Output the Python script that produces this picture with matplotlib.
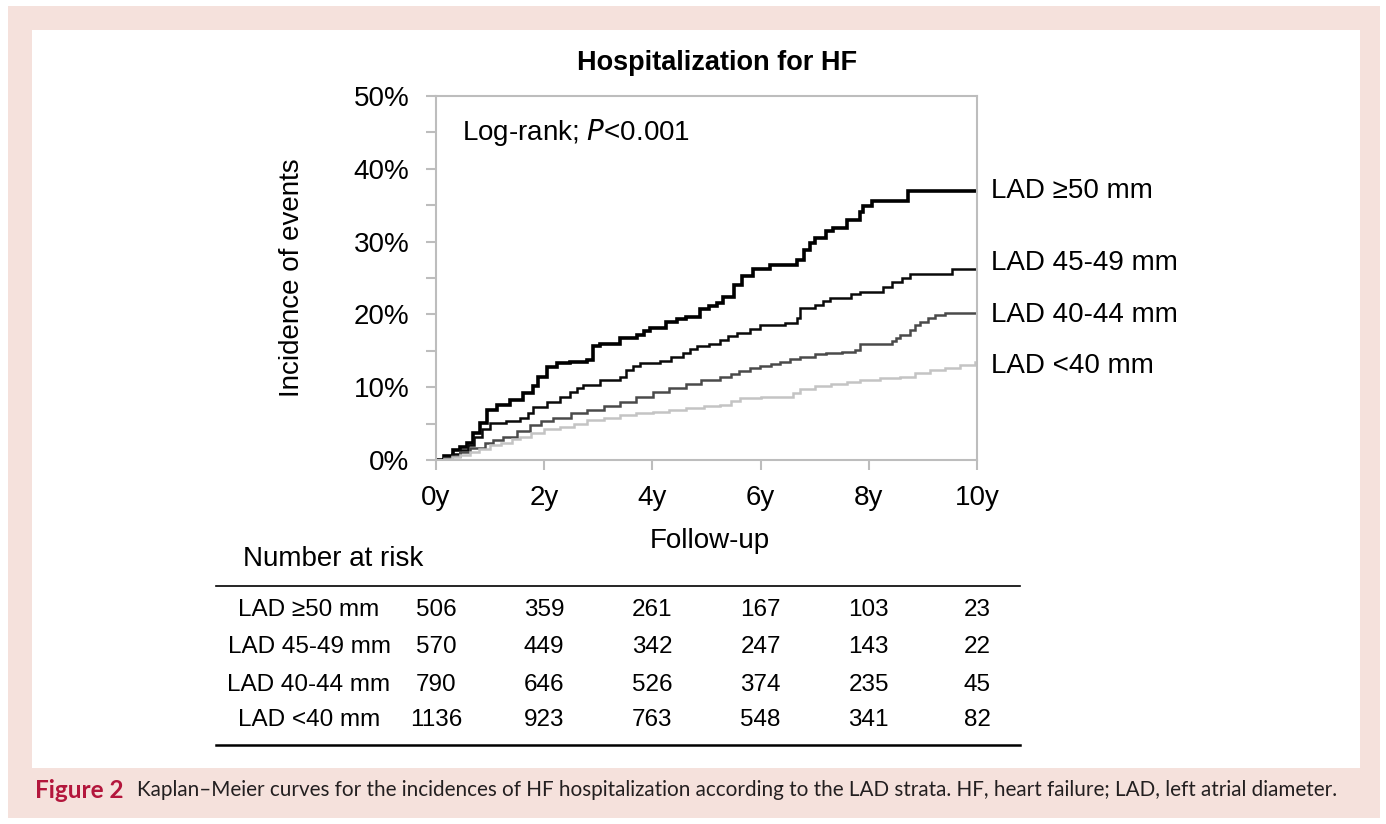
import numpy as np
import matplotlib.pyplot as plt
from matplotlib.patches import Rectangle
import matplotlib.transforms as mtransforms

W, H = 1386, 824

# ---- data ----
groups = ["LAD \u226550 mm", "LAD 45-49 mm", "LAD 40-44 mm", "LAD <40 mm"]

lad50_t = [0, 0.15, 0.32, 0.45, 0.57, 0.69, 0.81, 0.94, 1.12, 1.37, 1.61, 1.79, 1.89, 2.05, 2.23,
           2.48, 2.79, 2.9, 3.03, 3.4, 3.71, 3.85, 3.96, 4.26, 4.45, 4.63, 4.88, 5.05, 5.19, 5.3,
           5.5, 5.65, 5.86, 6.17, 6.67, 6.8, 6.91, 7.0, 7.2, 7.34, 7.59, 7.84, 7.9, 8.05, 8.72]
lad50_v = [0, 0.6, 1.4, 1.8, 2.3, 3.7, 5.1, 6.9, 7.6, 8.2, 9.2, 10.1, 11.4, 12.8, 13.3,
           13.5, 13.7, 15.6, 16.0, 16.7, 17.2, 17.7, 18.1, 19.0, 19.4, 19.7, 20.8, 21.2, 21.6, 22.4,
           24.0, 25.3, 26.2, 26.8, 27.5, 28.8, 29.8, 30.5, 31.5, 31.9, 33.0, 34.0, 34.9, 35.6, 37.0]

lad45_t = [0, 0.15, 0.3, 0.45, 0.6, 0.7, 0.85, 1.0, 1.3, 1.55, 1.7, 1.8, 2.05, 2.3, 2.48, 2.6,
           2.72, 3.03, 3.4, 3.52, 3.65, 3.77, 4.14, 4.35, 4.57, 4.7, 4.82, 5.05, 5.25, 5.4, 5.56,
           5.8, 5.99, 6.45, 6.67, 6.73, 7.0, 7.15, 7.28, 7.68, 7.84, 8.26, 8.42, 8.61, 8.76, 9.54]
lad45_v = [0, 0.4, 0.8, 1.4, 2.0, 3.2, 4.2, 5.1, 5.3, 5.8, 6.5, 7.3, 8.0, 8.7, 9.4, 9.9,
           10.3, 11.0, 11.4, 12.4, 12.9, 13.3, 13.6, 14.2, 14.7, 15.2, 15.6, 16.0, 16.5, 17.0, 17.5,
           18.0, 18.5, 18.8, 19.5, 20.9, 21.3, 21.8, 22.2, 22.8, 23.1, 23.8, 24.4, 25.0, 25.5, 26.3]

lad40_t = [0, 0.15, 0.3, 0.45, 0.63, 0.9, 1.05, 1.24, 1.5, 1.74, 1.95, 2.17, 2.5, 2.79, 3.1,
           3.4, 3.7, 4.02, 4.3, 4.63, 4.9, 5.25, 5.45, 5.6, 5.8, 5.99, 6.2, 6.35, 6.55, 6.73,
           7.0, 7.2, 7.5, 7.74, 7.84, 8.43, 8.5, 8.58, 8.76, 8.85, 8.95, 9.1, 9.22, 9.41]
lad40_v = [0, 0.3, 0.6, 1.1, 1.6, 2.4, 2.8, 3.2, 4.0, 4.8, 5.3, 5.8, 6.4, 6.9, 7.4,
           8.0, 8.7, 9.4, 9.9, 10.5, 11.0, 11.4, 11.8, 12.2, 12.6, 12.9, 13.2, 13.5, 13.9, 14.2,
           14.5, 14.7, 14.9, 15.1, 16.0, 16.3, 16.8, 17.2, 17.9, 18.5, 19.0, 19.5, 19.9, 20.2]

lad_lt40_t = [0, 0.15, 0.3, 0.45, 0.63, 0.8, 1.0, 1.2, 1.4, 1.55, 1.75, 2.0, 2.3, 2.55, 2.79,
              3.1, 3.4, 3.7, 4.02, 4.3, 4.63, 4.95, 5.25, 5.45, 5.62, 6.0, 6.45, 6.6, 6.73,
              7.0, 7.3, 7.6, 7.84, 8.2, 8.58, 8.85, 9.13, 9.4, 9.69, 9.96]
lad_lt40_v = [0, 0.2, 0.4, 0.7, 1.1, 1.5, 2.0, 2.4, 2.9, 3.2, 3.7, 4.2, 4.6, 5.0, 5.5,
              5.8, 6.2, 6.4, 6.6, 6.9, 7.1, 7.4, 7.6, 8.1, 8.5, 8.6, 8.7, 9.2, 9.8,
              10.1, 10.4, 10.7, 11.0, 11.2, 11.4, 11.9, 12.4, 12.7, 13.0, 13.4]

risk_years = [0, 2, 4, 6, 8, 10]
risk_lad50 = [506, 359, 261, 167, 103, 23]
risk_lad45 = [570, 449, 342, 247, 143, 22]
risk_lad40 = [790, 646, 526, 374, 235, 45]
risk_lad_lt40 = [1136, 923, 763, 548, 341, 82]

# ---- styling ----
curves = [(lad50_t, lad50_v, "#000000", 2.6),
          (lad45_t, lad45_v, "#0a0a0a", 1.8),
          (lad40_t, lad40_v, "#4a4a4a", 1.8),
          (lad_lt40_t, lad_lt40_v, "#c4c4c4", 1.8)]
label_y = [36.9, 27.1, 19.9, 12.9]
risk_rows = [risk_lad50, risk_lad45, risk_lad40, risk_lad_lt40]
row_y = [610, 647, 685, 720]

plt.rcParams['font.family'] = ['Liberation Sans', 'DejaVu Sans']


def fx(px):
    return px / W


def fy(py):
    return 1 - py / H


fig = plt.figure(figsize=(W / 100, H / 100), dpi=100)
fig.patch.set_facecolor("white")

# pink frame and white panel
fig.patches.append(Rectangle((fx(8), fy(818)), fx(1380) - fx(8), fy(6) - fy(818),
                             transform=fig.transFigure, facecolor="#f5e1dc", edgecolor="none", zorder=-3))
fig.patches.append(Rectangle((fx(32), fy(768)), fx(1360) - fx(32), fy(30) - fy(768),
                             transform=fig.transFigure, facecolor="white", edgecolor="none", zorder=-2))

ax = fig.add_axes([fx(436), fy(460), fx(977) - fx(436), fy(96) - fy(460)])
ax.set_facecolor("white")

for (t, v, col, lw), lab, ly in zip(curves, groups, label_y):
    ax.step(t + [10], v + [v[-1]], where="post", color=col, lw=lw, solid_joinstyle="miter")
    ax.text(10.25, ly, lab, fontsize=20, va="center", ha="left", clip_on=False)

ax.set_xlim(0, 10)
ax.set_ylim(0, 50)
ax.set_xticks(risk_years)
ax.set_xticklabels([f"{y}y" for y in risk_years])
ax.set_yticks(np.arange(0, 51, 10))
ax.set_yticklabels([f"{y}%" for y in range(0, 51, 10)])
ax.set_yticks(np.arange(5, 50, 10), minor=True)
for s in ax.spines.values():
    s.set_color("#bdbdbd")
    s.set_linewidth(1.5)
ax.tick_params(axis="both", which="both", color="#bdbdbd", width=1.5, length=7,
               labelsize=20, direction="out")
ax.tick_params(axis="y", pad=12)
ax.tick_params(axis="x", pad=11)

ax.text(0.48, 45.0, "Log-rank; $\\mathit{P}$<0.001", fontsize=20, va="center", ha="left")
ax.set_title("Hospitalization for HF", fontsize=19.5, fontweight="bold", pad=19, x=0.52)
ax.set_ylabel("Incidence of events", fontsize=20, labelpad=35)
fig.text(fx(710), fy(541), "Follow-up", fontsize=20, ha="center", va="center")

# number at risk table
fig.text(fx(243), fy(559), "Number at risk", fontsize=20, ha="left", va="center")
fig.add_artist(plt.Line2D([fx(216), fx(1020)], [fy(586), fy(586)], color="black", lw=1.2))
fig.add_artist(plt.Line2D([fx(216), fx(1020)], [fy(745), fy(745)], color="black", lw=1.8))
blend = mtransforms.blended_transform_factory(ax.transData, fig.transFigure)
for lab, counts, ry in zip(groups, risk_rows, row_y):
    fig.text(fx(309), fy(ry), lab, fontsize=17.5, ha="center", va="center")
    for yr, n in zip(risk_years, counts):
        ax.text(yr, fy(ry), str(n), fontsize=17.5, ha="center", va="center",
                transform=blend, clip_on=False)

# caption
fig.text(fx(35), fy(790), "Figure 2", fontsize=17.5, fontweight="bold", color="#b3163c",
         family="Lato", ha="left", va="center")
fig.text(fx(137), fy(790),
         "Kaplan\u2013Meier curves for the incidences of HF hospitalization according to the LAD strata. "
         "HF, heart failure; LAD, left atrial diameter.",
         fontsize=14.9, color="#231f20", family="Lato", ha="left", va="center")

fig.savefig("out.png", dpi=100)
